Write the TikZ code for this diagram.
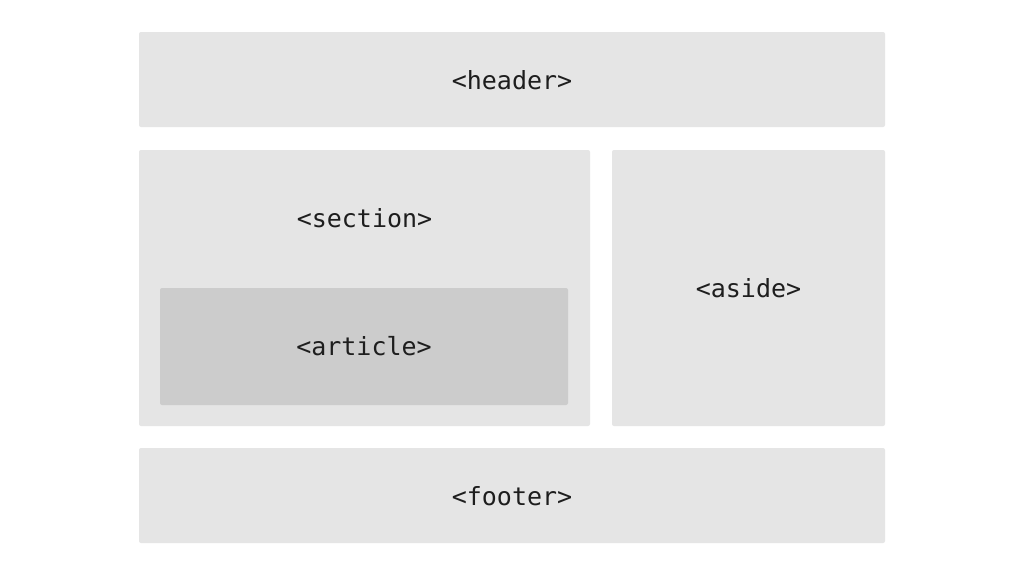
\documentclass[tikz,border=0pt]{standalone}
\usepackage{fontspec}
\setmonofont{DejaVu Sans Mono}
\definecolor{boxlight}{HTML}{E5E5E5}
\definecolor{boxdark}{HTML}{CCCCCC}
\definecolor{txt}{HTML}{1E1E1E}
\begin{document}
\begin{tikzpicture}[x=1pt,y=-1pt,
  region/.style={fill=boxlight, draw=none, rounded corners=2pt},
  inner/.style={fill=boxdark, draw=none, rounded corners=2pt},
  tag/.style={font=\ttfamily\fontsize{25}{29}\selectfont, text=txt, inner sep=0pt}]
\useasboundingbox (0,0) rectangle (1024,576);
\fill[white] (0,0) rectangle (1024,576);
\path[region] (139,32) rectangle (885,127);
\path[region] (139,150) rectangle (590,426);
\path[inner] (160,288) rectangle (568,405);
\path[region] (612,150) rectangle (885,426);
\path[region] (139,448) rectangle (885,543);
\node[tag] (header) at (512,80) {<header>};
\node[tag] (section) at (364.5,218) {<section>};
\node[tag] (article) at (364,346) {<article>};
\node[tag] (aside) at (748.5,288) {<aside>};
\node[tag] (footer) at (512,496) {<footer>};
\end{tikzpicture}
\end{document}
